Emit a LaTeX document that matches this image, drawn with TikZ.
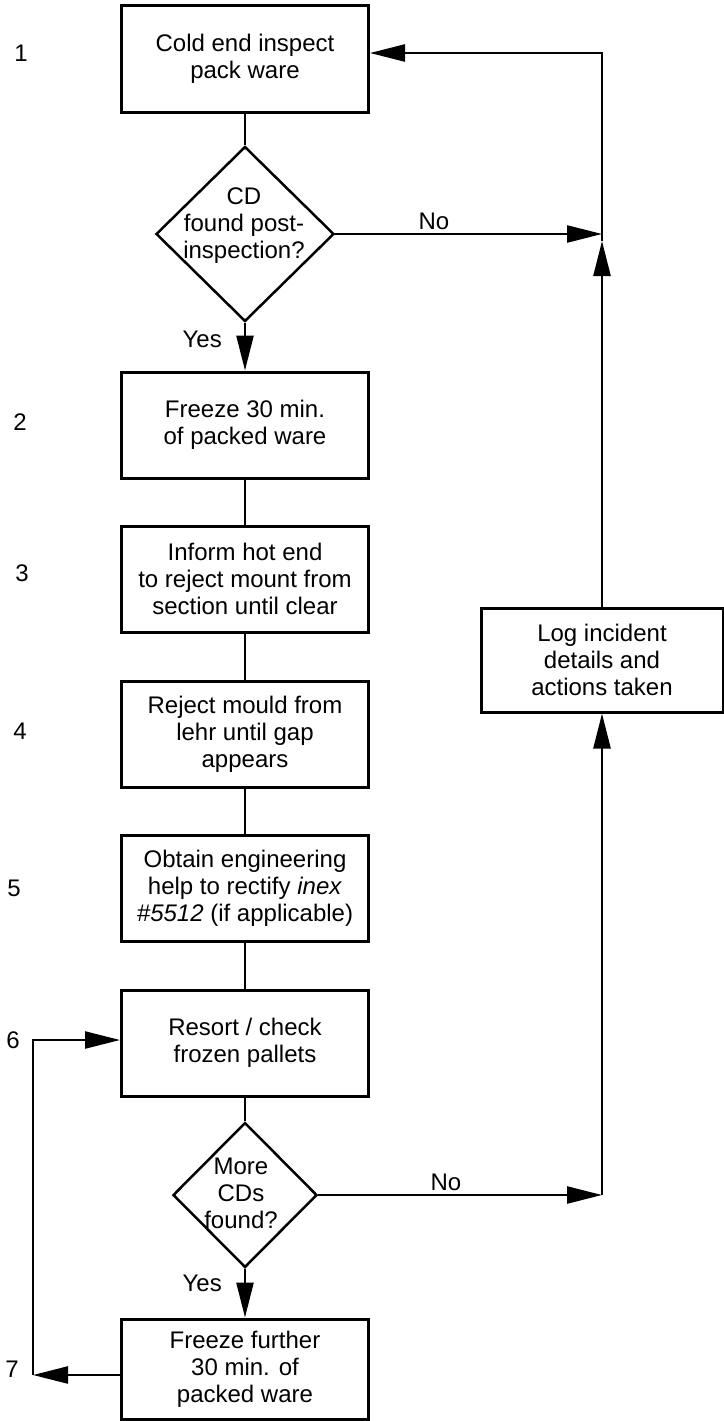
\documentclass[tikz,border=0pt]{standalone}
\usepackage{fontspec}
\setmainfont{Liberation Sans}
\usetikzlibrary{shapes.geometric,arrows.meta}

\begin{document}
\begin{tikzpicture}[x=1pt,y=-1pt,
  font=\fontsize{24}{27}\selectfont,
  box/.style={draw, line width=3pt, minimum width=247pt, minimum height=106pt,
    inner sep=0pt, align=center},
  ask/.style={draw, diamond, line width=2.5pt, inner sep=0pt},
  link/.style={line width=2.5pt},
  arr/.style={line width=2.5pt, -{Triangle[length=35pt,width=17pt]}}]
\useasboundingbox (0,0) rectangle (723,1421);

% main column
\node[box] (cold) at (245,59) {Cold end inspect\\pack ware};
\node[ask, minimum width=178pt, minimum height=175pt] (found) at (245,234) {};
\node[align=center] (foundtxt) at (244,226) {CD\\found post-\\inspection?};
\node[box] (freeze) at (245,425) {Freeze 30 min.\\of packed ware};
\node[box] (inform) at (245,579) {Inform hot end\\to reject mount from\\section until clear};
\node[box] (mould) at (245,734) {Reject mould from\\lehr until gap\\appears};
\node[box] (help) at (245,888) {Obtain engineering\\help to rectify \textit{inex}\\\textit{\#5512} (if applicable)};
\node[box] (resort) at (245,1043) {Resort / check\\frozen pallets};
\node[ask, minimum width=144pt, minimum height=145pt] (more) at (245,1195) {};
\node[align=center] (moretxt) at (241,1193) {More\\CDs\\found?};
\node[box, minimum height=100pt] (further) at (245,1369) {Freeze further\\30 min. of\\packed ware};

% side box
\node[box, minimum width=242pt, minimum height=104pt] (log) at (602,660) {Log incident\\details and\\actions taken};

% step numbers
\foreach \n/\x/\y in {1/21/53, 2/20/422, 3/22/573, 4/20/731, 5/14/888, 6/13/1040, 7/12/1369}
  \node (num\n) at (\x,\y) {\n};

\coordinate (j1) at (log.north |- found.east);
\coordinate (j2) at (log.south |- more.east);
\coordinate (l7) at (33,1375);

\draw[link] (cold) -- (found);
\draw[arr] (found) -- node[left=22pt, inner sep=0pt, pos=0.34] {Yes} (freeze);
\draw[arr] (found) -- node[above, pos=0.37] {No} (j1);
\draw[link] (freeze) -- (inform);
\draw[link] (inform) -- (mould);
\draw[link] (mould) -- (help);
\draw[link] (help) -- (resort);
\draw[link] (resort) -- (more);
\draw[arr] (more) -- node[left=22pt, inner sep=0pt, pos=0.3] {Yes} (further);
\draw[arr] (more) -- node[above, pos=0.45] {No} (j2);

% back to the top
\draw[arr] (j2) -- (log);
\draw[arr] (log) -- ([yshift=-7pt]j1);
\draw[arr] ([yshift=-7pt]j1) |- ([yshift=6pt]cold.east);

% resort loop
\draw[arr] ([yshift=-6pt]further.west) -- (l7);
\draw[arr] (l7) |- ([yshift=3pt]resort.west);
\end{tikzpicture}
\end{document}
